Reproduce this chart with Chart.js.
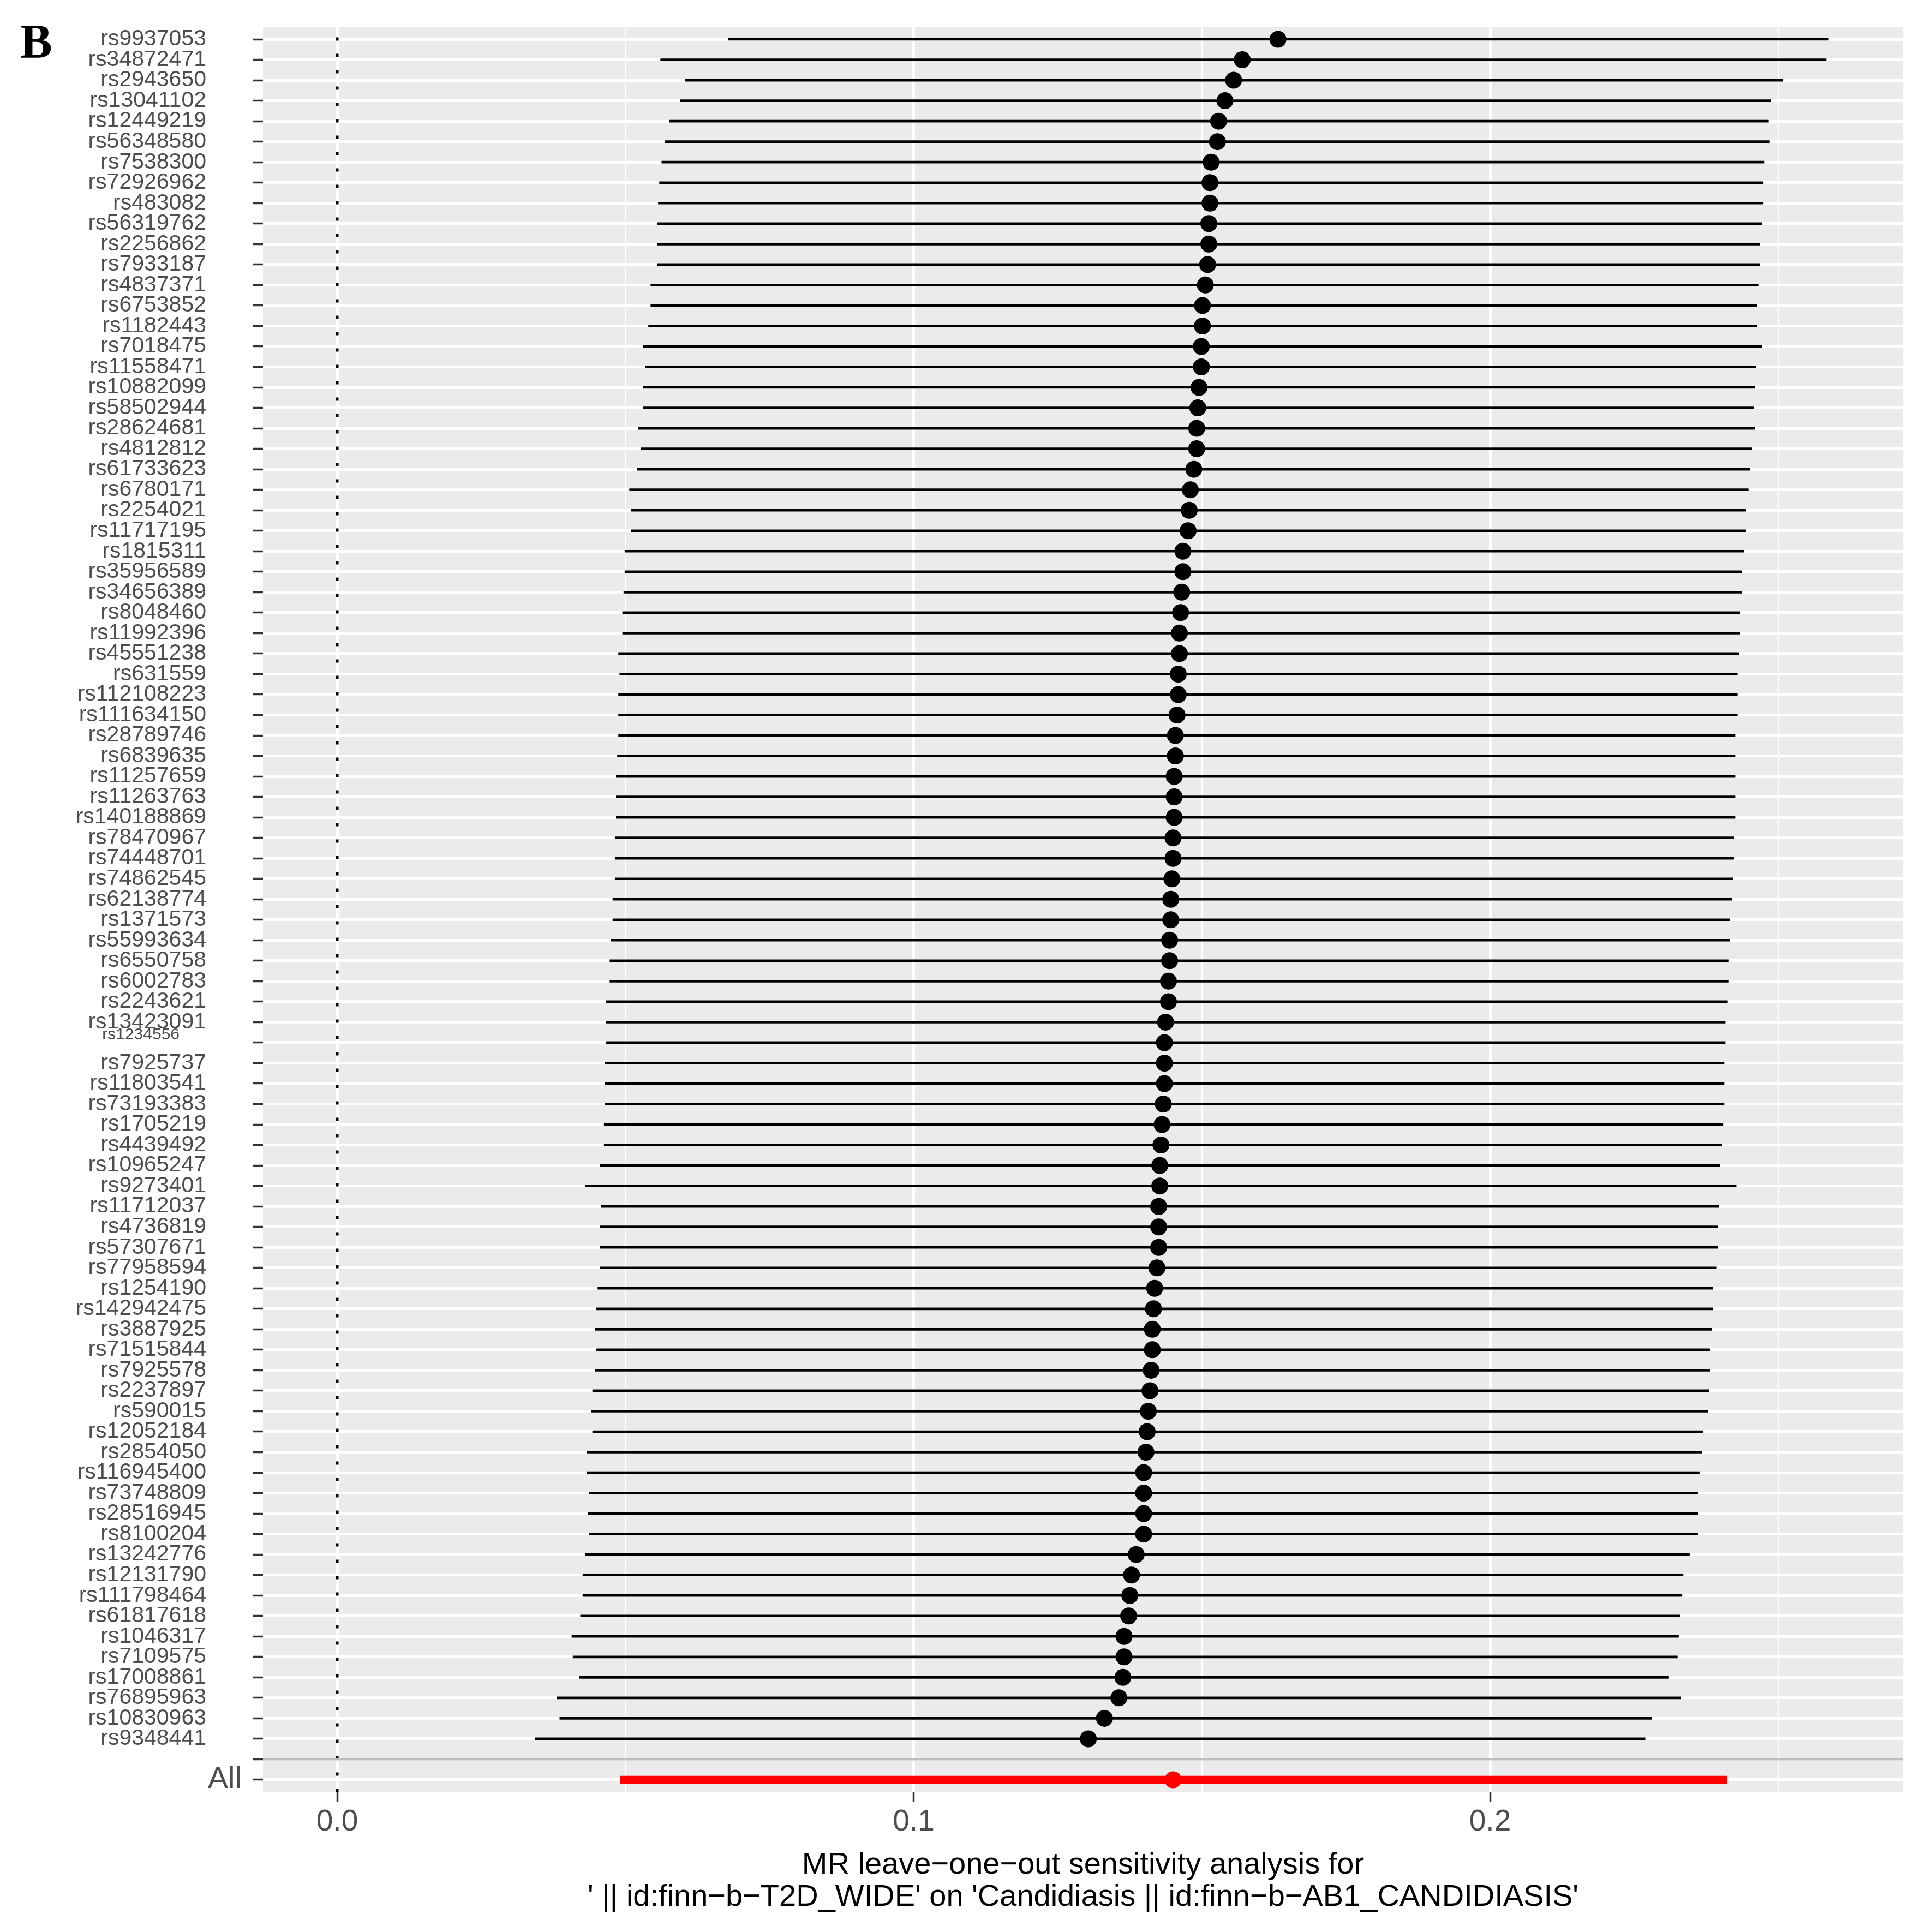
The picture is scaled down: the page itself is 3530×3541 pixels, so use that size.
<!DOCTYPE html>
<html>
<head>
<meta charset="utf-8">
<script src="https://cdn.jsdelivr.net/npm/chart.js@4.4.1/dist/chart.umd.min.js"></script>
<style>
  html, body { margin: 0; padding: 0; background: #ffffff; }
  canvas { display: block; }
</style>
</head>
<body>
<canvas id="looPlot" width="3530" height="3541"></canvas>
<script>
// leave-one-out SNPs, top to bottom
const snps = [
  'rs9937053', 'rs34872471', 'rs2943650', 'rs13041102', 'rs12449219', 'rs56348580', 'rs7538300',
  'rs72926962', 'rs483082', 'rs56319762', 'rs2256862', 'rs7933187', 'rs4837371', 'rs6753852',
  'rs1182443', 'rs7018475', 'rs11558471', 'rs10882099', 'rs58502944', 'rs28624681', 'rs4812812',
  'rs61733623', 'rs6780171', 'rs2254021', 'rs11717195', 'rs1815311', 'rs35956589', 'rs34656389',
  'rs8048460', 'rs11992396', 'rs45551238', 'rs631559', 'rs112108223', 'rs111634150', 'rs28789746',
  'rs6839635', 'rs11257659', 'rs11263763', 'rs140188869', 'rs78470967', 'rs74448701', 'rs74862545',
  'rs62138774', 'rs1371573', 'rs55993634', 'rs6550758', 'rs6002783', 'rs2243621', 'rs13423091',
  'rs1234556', 'rs7925737', 'rs11803541', 'rs73193383', 'rs1705219', 'rs4439492', 'rs10965247',
  'rs9273401', 'rs11712037', 'rs4736819', 'rs57307671', 'rs77958594', 'rs1254190', 'rs142942475',
  'rs3887925', 'rs71515844', 'rs7925578', 'rs2237897', 'rs590015', 'rs12052184', 'rs2854050',
  'rs116945400', 'rs73748809', 'rs28516945', 'rs8100204', 'rs13242776', 'rs12131790', 'rs111798464',
  'rs61817618', 'rs1046317', 'rs7109575', 'rs17008861', 'rs76895963', 'rs10830963', 'rs9348441'
];

const beta = [
  0.1632, 0.1570, 0.1555, 0.1540, 0.1529, 0.1527, 0.1516, 0.1514, 0.1514, 0.1512,
  0.1512, 0.1510, 0.1506, 0.1501, 0.1501, 0.1499, 0.1499, 0.1495, 0.1493, 0.1491,
  0.1491, 0.1486, 0.1480, 0.1478, 0.1476, 0.1467, 0.1467, 0.1465, 0.1463, 0.1461,
  0.1461, 0.1459, 0.1459, 0.1457, 0.1454, 0.1454, 0.1452, 0.1452, 0.1452, 0.1450,
  0.1450, 0.1448, 0.1446, 0.1446, 0.1444, 0.1444, 0.1442, 0.1442, 0.1437, 0.1435,
  0.1435, 0.1435, 0.1433, 0.1431, 0.1429, 0.1427, 0.1427, 0.1425, 0.1425, 0.1425,
  0.1422, 0.1418, 0.1416, 0.1414, 0.1414, 0.1412, 0.1410, 0.1407, 0.1405, 0.1403,
  0.1399, 0.1399, 0.1399, 0.1399, 0.1386, 0.1378, 0.1375, 0.1373, 0.1365, 0.1365,
  0.1363, 0.1356, 0.1331, 0.1303
];

const lower = [
  0.0678, 0.0561, 0.0604, 0.0595, 0.0576, 0.0569, 0.0563, 0.0559, 0.0557, 0.0555,
  0.0555, 0.0555, 0.0544, 0.0544, 0.0540, 0.0531, 0.0535, 0.0531, 0.0531, 0.0522,
  0.0527, 0.0520, 0.0507, 0.0510, 0.0510, 0.0499, 0.0499, 0.0497, 0.0495, 0.0495,
  0.0488, 0.0490, 0.0488, 0.0488, 0.0488, 0.0486, 0.0484, 0.0484, 0.0484, 0.0482,
  0.0482, 0.0482, 0.0478, 0.0478, 0.0475, 0.0473, 0.0473, 0.0467, 0.0467, 0.0467,
  0.0465, 0.0465, 0.0465, 0.0463, 0.0463, 0.0456, 0.0430, 0.0458, 0.0456, 0.0456,
  0.0456, 0.0452, 0.0450, 0.0448, 0.0450, 0.0448, 0.0443, 0.0441, 0.0443, 0.0433,
  0.0433, 0.0437, 0.0435, 0.0437, 0.0430, 0.0426, 0.0426, 0.0422, 0.0407, 0.0409,
  0.0420, 0.0381, 0.0386, 0.0343
];

const upper = [
  0.2587, 0.2583, 0.2508, 0.2487, 0.2483, 0.2485, 0.2476, 0.2474, 0.2474, 0.2472,
  0.2468, 0.2468, 0.2466, 0.2463, 0.2463, 0.2472, 0.2461, 0.2459, 0.2457, 0.2459,
  0.2455, 0.2451, 0.2448, 0.2444, 0.2444, 0.2440, 0.2436, 0.2436, 0.2434, 0.2434,
  0.2432, 0.2429, 0.2429, 0.2429, 0.2425, 0.2425, 0.2425, 0.2425, 0.2425, 0.2423,
  0.2423, 0.2421, 0.2419, 0.2416, 0.2416, 0.2414, 0.2414, 0.2412, 0.2408, 0.2408,
  0.2406, 0.2406, 0.2406, 0.2404, 0.2402, 0.2399, 0.2427, 0.2397, 0.2395, 0.2395,
  0.2393, 0.2386, 0.2386, 0.2384, 0.2382, 0.2382, 0.2380, 0.2378, 0.2369, 0.2367,
  0.2363, 0.2361, 0.2361, 0.2361, 0.2346, 0.2335, 0.2333, 0.2329, 0.2327, 0.2325,
  0.2310, 0.2331, 0.2280, 0.2269
];

// the pooled "All" estimate
const allBeta = 0.1450;
const allLower = 0.0491;
const allUpper = 0.2411;

// y rows: SNPs, one blank separator row, then "All"
const rowLabels = [...snps, '', 'All'];
const blankRow = snps.length + 1;
const allRow = snps.length + 2;

const majorTicks = [0, 0.1, 0.2];
const majorTickLabels = ['0.0', '0.1', '0.2'];

const xTitle = [
  'MR leave\u2212one\u2212out sensitivity analysis for',
  "' || id:finn\u2212b\u2212T2D_WIDE' on 'Candidiasis || id:finn\u2212b\u2212AB1_CANDIDIASIS'"
];

const isMajor = v => majorTicks.some(m => Math.abs(m - v) < 1e-9);

const snpBars = snps.map((s, i) => ({ x: [lower[i], upper[i]], y: i + 1 }));
const snpPoints = snps.map((s, i) => ({ x: beta[i], y: i + 1 }));

// grey panel, dotted zero line, grey separator, odd labels and the panel letter
const ggDecor = {
  id: 'ggDecor',
  beforeDraw(chart) {
    const { ctx, chartArea: a } = chart;
    ctx.save();
    ctx.fillStyle = '#ffffff';
    ctx.fillRect(0, 0, chart.width, chart.height);
    ctx.fillStyle = '#EBEBEB';
    ctx.fillRect(a.left, a.top, a.right - a.left, a.bottom - a.top);
    ctx.restore();
  },
  beforeDatasetsDraw(chart) {
    const { ctx, chartArea: a, scales } = chart;
    const x0 = scales.x.getPixelForValue(0);
    ctx.save();
    ctx.strokeStyle = '#000000';
    ctx.lineWidth = 5;
    ctx.setLineDash([6, 24]);
    ctx.beginPath();
    ctx.moveTo(x0, a.bottom);
    ctx.lineTo(x0, a.top);
    ctx.stroke();
    ctx.restore();
  },
  afterDatasetsDraw(chart) {
    const { ctx, chartArea: a, scales } = chart;
    const yb = scales.y.getPixelForValue(blankRow);
    ctx.save();
    ctx.strokeStyle = '#BEBEBE';
    ctx.lineWidth = 4;
    ctx.beginPath();
    ctx.moveTo(a.left, yb);
    ctx.lineTo(a.right, yb);
    ctx.stroke();
    ctx.restore();
  },
  afterDraw(chart) {
    const { ctx, chartArea: a, scales } = chart;
    ctx.save();
    ctx.fillStyle = '#4D4D4D';
    ctx.textAlign = 'right';
    ctx.textBaseline = 'middle';
    ctx.font = '56px "Liberation Sans", Arial, sans-serif';
    ctx.fillText('All', a.left - 39, scales.y.getPixelForValue(allRow));
    // this one label sits smaller and higher than the rest
    ctx.font = '30px "Liberation Sans", Arial, sans-serif';
    ctx.fillText(snps[49], 329, scales.y.getPixelForValue(50) - 14);
    ctx.fillStyle = '#000000';
    ctx.textAlign = 'left';
    ctx.textBaseline = 'alphabetic';
    ctx.font = 'bold 88px "Liberation Serif", "Times New Roman", serif';
    ctx.fillText('B', 37, 105);
    ctx.restore();
  }
};

const ctx = document.getElementById('looPlot').getContext('2d');

new Chart(ctx, {
  data: {
    datasets: [
      {
        type: 'scatter',
        order: 0,
        data: snpPoints,
        backgroundColor: '#000000',
        borderWidth: 0,
        pointRadius: 15.5
      },
      {
        type: 'scatter',
        order: 0,
        data: [{ x: allBeta, y: allRow }],
        backgroundColor: '#FF0000',
        borderWidth: 0,
        pointRadius: 15.5
      },
      {
        type: 'bar',
        order: 1,
        indexAxis: 'y',
        grouped: false,
        data: snpBars,
        backgroundColor: '#000000',
        borderWidth: 0,
        barThickness: 4
      },
      {
        type: 'bar',
        order: 1,
        indexAxis: 'y',
        grouped: false,
        data: [{ x: [allLower, allUpper], y: allRow }],
        backgroundColor: '#FF0000',
        borderWidth: 0,
        barThickness: 14
      }
    ]
  },
  options: {
    responsive: false,
    animation: false,
    events: [],
    layout: { padding: { top: 49.5, right: 42, left: 0, bottom: 0 } },
    plugins: {
      legend: { display: false },
      tooltip: { enabled: false }
    },
    scales: {
      x: {
        type: 'linear',
        position: 'bottom',
        offset: false,
        beginAtZero: false,
        min: -0.012873,
        max: 0.27165,
        border: { display: false },
        grid: {
          offset: false,
          color: '#FFFFFF',
          lineWidth: c => (c.tick && isMajor(c.tick.value) ? 5 : 2.5),
          tickColor: c => (c.tick && isMajor(c.tick.value) ? '#333333' : 'rgba(0,0,0,0)'),
          tickWidth: 3.5,
          tickLength: 18
        },
        ticks: {
          stepSize: 0.05,
          includeBounds: false,
          autoSkip: false,
          maxRotation: 0,
          padding: 4,
          color: '#4D4D4D',
          font: { family: '"Liberation Sans", Arial, sans-serif', size: 55, lineHeight: 1.2 },
          callback: v => {
            const k = majorTicks.findIndex(m => Math.abs(m - v) < 1e-9);
            return k >= 0 ? majorTickLabels[k] : '';
          }
        },
        title: {
          display: true,
          text: xTitle,
          color: '#000000',
          font: { family: '"Liberation Sans", Arial, sans-serif', size: 56, lineHeight: 1.07 },
          padding: { top: 0, bottom: 33 }
        },
        afterFit: s => {
          s.height = 256.5;
          s.paddingLeft = 0;
          s.paddingRight = 0;
        }
      },
      y: {
        type: 'linear',
        position: 'left',
        reverse: true,
        offset: false,
        min: 0.4,
        max: allRow + 0.6,
        border: { display: false },
        grid: {
          offset: false,
          color: '#FFFFFF',
          lineWidth: 5,
          tickColor: '#333333',
          tickWidth: 3.5,
          tickLength: 18
        },
        ticks: {
          stepSize: 1,
          includeBounds: false,
          autoSkip: false,
          padding: 86,
          color: '#4D4D4D',
          font: { family: '"Liberation Sans", Arial, sans-serif', size: 41, lineHeight: 1 },
          callback: v => {
            if (!Number.isInteger(v)) return '';
            if (v === 50 || v === allRow) return '';
            return rowLabels[v - 1] || '';
          }
        },
        afterFit: s => {
          s.width = 482;
          s.paddingTop = 0;
          s.paddingBottom = 0;
        }
      }
    }
  },
  plugins: [ggDecor]
});
</script>
</body>
</html>
